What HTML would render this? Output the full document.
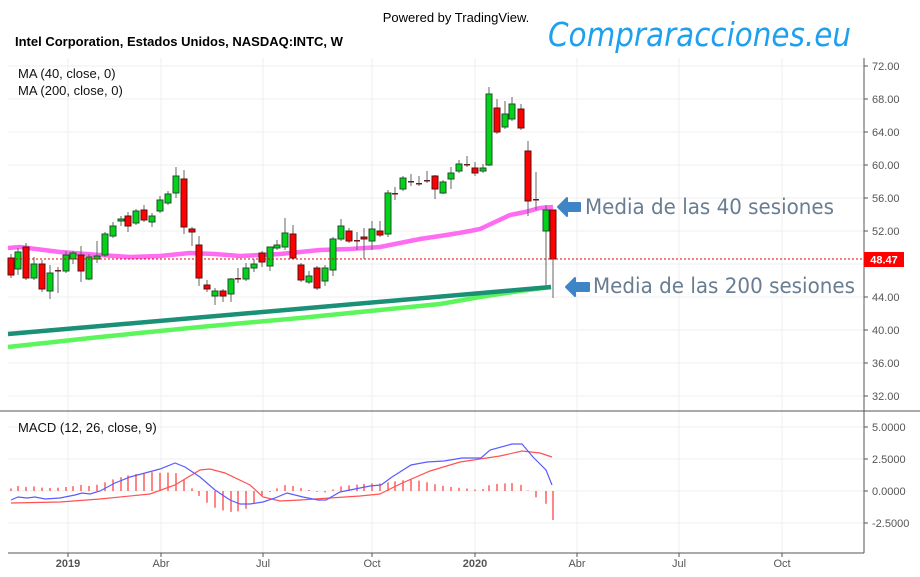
<!DOCTYPE html>
<html><head><meta charset="utf-8"><style>
body{margin:0;background:#fff;}
svg{display:block;font-family:"Liberation Sans",Arial,sans-serif;}
</style></head><body>
<svg id="s" width="920" height="577" viewBox="0 0 920 577" xmlns="http://www.w3.org/2000/svg">
<rect width="920" height="577" fill="#fff"/>
<g id="grid" stroke="#efefef" stroke-width="1"></g>
<text x="456" y="22" font-size="13" text-anchor="middle" fill="#000">Powered by TradingView.</text>
<text x="15" y="46" font-size="13" font-weight="bold" fill="#000">Intel Corporation, Estados Unidos, NASDAQ:INTC, W</text>
<text x="548" y="46" font-size="33" font-style="italic" fill="#1ea0ef" font-family="'DejaVu Sans',sans-serif" textLength="303" lengthAdjust="spacingAndGlyphs">Compraracciones.eu</text>
<text x="18" y="78" font-size="13" fill="#111">MA (40, close, 0)</text>
<text x="18" y="95" font-size="13" fill="#111">MA (200, close, 0)</text>
<text x="18" y="432" font-size="13" fill="#111">MACD (12, 26, close, 9)</text>
<g id="ma"></g>
<g id="c"></g>
<g id="m"></g>
<line x1="8" y1="259" x2="864" y2="259" stroke="#e00" stroke-width="1" stroke-dasharray="2,2"/>
<line x1="864" y1="58" x2="864" y2="553" stroke="#555"/>
<line x1="0" y1="411" x2="920" y2="411" stroke="#555"/>
<line x1="8" y1="553" x2="864" y2="553" stroke="#555"/>
<g id="ax" font-size="11" fill="#555"></g>
<rect x="864" y="252" width="40" height="15" fill="#f00"/>
<text x="884" y="263.5" font-size="11" font-weight="bold" fill="#fff" text-anchor="middle">48.47</text>
<path d="M558 207 L567 198 L567 203 L580 203 L580 211 L567 211 L567 216 Z" fill="#3d85c6" stroke="#3d85c6" stroke-width="2" stroke-linejoin="round"/>
<text x="585" y="214" font-size="21" fill="#687d91" font-family="'DejaVu Sans',sans-serif" textLength="249" lengthAdjust="spacingAndGlyphs">Media de las 40 sesiones</text>
<path d="M566 287 L575 278 L575 283 L589 283 L589 291 L575 291 L575 296 Z" fill="#3d85c6" stroke="#3d85c6" stroke-width="2" stroke-linejoin="round"/>
<text x="593" y="293" font-size="21" fill="#687d91" font-family="'DejaVu Sans',sans-serif" textLength="262" lengthAdjust="spacingAndGlyphs">Media de las 200 sesiones</text>
</svg>
<script>
var NS="http://www.w3.org/2000/svg";
function el(p,t,a){var e=document.createElementNS(NS,t);for(var k in a)e.setAttribute(k,a[k]);p.appendChild(e);return e;}
var g=document.getElementById('grid'),ax=document.getElementById('ax');
var vx=[68,161,263,372,475,577,679,782],vl=['2019','Abr','Jul','Oct','2020','Abr','Jul','Oct'];
vx.forEach(function(x,i){el(g,'line',{x1:x,y1:58,x2:x,y2:553});el(ax,'line',{x1:x,y1:553,x2:x,y2:557,stroke:'#555'});
var t=el(ax,'text',{x:x,y:567,'text-anchor':'middle','font-weight':(vl[i].match(/\d/)?'bold':'normal')});t.textContent=vl[i];});
for(var p=72;p>=32;p-=4){var y=66+(72-p)*8.25;el(g,'line',{x1:8,y1:y,x2:864,y2:y});el(ax,'line',{x1:864,y1:y,x2:868,y2:y,stroke:'#555'});
if(p==48)continue;var t=el(ax,'text',{x:872,y:y+4});t.textContent=p.toFixed(2);}
[[5,427],[2.5,459],[0,491],[-2.5,523]].forEach(function(a){el(g,'line',{x1:8,y1:a[1],x2:864,y2:a[1]});el(ax,'line',{x1:864,y1:a[1],x2:868,y2:a[1],stroke:'#555'});
var t=el(ax,'text',{x:872,y:a[1]+4});t.textContent=a[0].toFixed(4);});
function pts(a){return a.map(function(q){return q.join(',')}).join(' ');}
var ma=document.getElementById('ma');
el(ma,'polyline',{points:pts([[8,347],[100,337],[200,327],[300,318],[380,310],[440,304],[480,297],[520,291],[551,287]]),fill:'none',stroke:'#5cf55c',"stroke-width":4.5});
el(ma,'polyline',{points:pts([[8,334],[551,287]]),fill:'none',stroke:'#1a9077',"stroke-width":4.5});
el(ma,'polyline',{points:pts([[8,248],[20,247],[60,252],[100,255],[130,257],[160,256],[190,253],[215,254],[240,256],[280,254],[320,250],[350,249],[380,247],[400,243],[420,239],[440,236],[459,233],[470,231],[480,229],[495,222],[510,215],[525,212],[540,208],[553,207]]),fill:'none',stroke:'#ff5cf0',"stroke-width":4.5,"stroke-opacity":0.9});
var C=[[11,258,275,254,278,'r'],[18,252,269,248,275,'g'],[26,247,278,243,280,'r'],[34,264,278,257,280,'g'],[42,264,289,260,292,'r'],[50,273,291,265,299,'g'],[58,270,271,267,293,'d'],[66,255,271,251,273,'g'],[73,253,259,251,264,'g'],[81,255,271,246,282,'r'],[89,257,279,254,280,'g'],[97,256,259,241,263,'g'],[105,234,255,232,257,'g'],[113,226,236,222,238,'g'],[121,219,221,216,226,'g'],[128,216,226,212,232,'r'],[136,211,223,209,225,'g'],[144,210,220,205,222,'r'],[152,216,222,213,227,'g'],[160,200,211,196,213,'g'],[168,194,203,191,205,'g'],[176,176,193,167,198,'g'],[184,179,227,170,234,'r'],[192,229,232,227,246,'r'],[199,245,278,236,286,'r'],[207,285,289,280,292,'r'],[215,291,296,288,305,'g'],[223,291,296,289,302,'r'],[231,279,294,278,302,'g'],[238,278,279,268,283,'d'],[246,268,279,263,281,'g'],[254,264,268,259,272,'g'],[262,253,262,251,267,'r'],[270,247,266,247,271,'g'],[277,245,248,240,250,'g'],[285,233,247,218,250,'g'],[293,234,258,225,259,'r'],[301,265,280,263,282,'r'],[309,276,282,271,284,'g'],[317,268,288,266,290,'r'],[325,268,281,265,286,'g'],[333,239,270,237,276,'g'],[341,226,239,219,241,'g'],[349,231,241,228,243,'r'],[357,240,241,232,250,'d'],[364,237,239,228,259,'r'],[372,229,241,221,250,'g'],[380,231,235,221,237,'r'],[388,193,234,190,237,'g'],[395,193,194,187,200,'d'],[403,178,189,176,191,'g'],[411,181,182,174,186,'d'],[419,183,184,176,186,'d'],[427,180,181,171,183,'d'],[435,176,189,175,199,'r'],[443,182,193,180,194,'g'],[451,173,179,167,189,'g'],[459,164,171,160,173,'g'],[467,164,165,156,167,'d'],[475,168,173,162,176,'r'],[483,168,171,164,173,'g'],[489,94,165,87,166,'g'],[497,108,132,99,134,'r'],[505,114,127,101,129,'g'],[512,104,119,97,121,'g'],[521,109,128,104,130,'r'],[528,151,201,141,216,'r'],[536,199,200,172,210,'d'],[546,210,231,205,285,'g'],[553,210,259,210,298,'r']];
var cg=document.getElementById('c');
C.forEach(function(c){el(cg,'line',{x1:c[0],y1:c[3],x2:c[0],y2:c[4],stroke:'#666'});
if(c[5]=='d'){el(cg,'rect',{x:c[0]-3,y:c[1],width:6,height:1.5,fill:'#6b1b1b'});return;}
el(cg,'rect',{x:c[0]-3,y:c[1],width:6,height:Math.max(1,c[2]-c[1]),fill:c[5]=='g'?'#00d318':'#f00',stroke:c[5]=='g'?'#1f4f2a':'#5a1010','stroke-width':1});});
var B=[[11,500],[18,497],[27,498],[35,497],[45,499],[60,498],[75,495],[82,493],[90,494],[100,491],[115,483],[130,477],[145,473],[160,469],[175,463],[185,467],[200,477],[215,490],[230,500],[240,504],[250,504],[263,502],[275,498],[287,493],[303,497],[318,500],[326,500],[340,492],[370,486],[381,485],[392,477],[411,465],[427,462],[444,461],[462,458],[481,458],[490,450],[512,444],[522,444],[533,457],[546,470],[552,485]];
var R=[[11,503],[60,502],[100,499],[150,494],[175,485],[200,470],[210,469],[225,473],[250,485],[263,497],[280,501],[300,500],[330,498],[360,496],[380,494],[400,484],[430,471],[460,462],[480,459],[500,456],[522,451],[540,453],[552,457]];
function at(a,x){for(var i=0;i<a.length-1;i++){if(x<=a[i+1][0]){var t=(x-a[i][0])/(a[i+1][0]-a[i][0]);return a[i][1]+t*(a[i+1][1]-a[i][1]);}}return a[a.length-1][1];}
var mg=document.getElementById('m');
C.forEach(function(c){var d=(at(R,c[0])-at(B,c[0]))*0.85;if(c[0]>=552)d=-29;el(mg,'line',{x1:c[0],y1:491,x2:c[0],y2:491-d,stroke:'#ff4444','stroke-width':1.3});});
el(mg,'polyline',{points:pts(R),fill:'none',stroke:'#ff5252','stroke-width':1.2});
el(mg,'polyline',{points:pts(B),fill:'none',stroke:'#5b5bff','stroke-width':1.2});
</script>
</body></html>
